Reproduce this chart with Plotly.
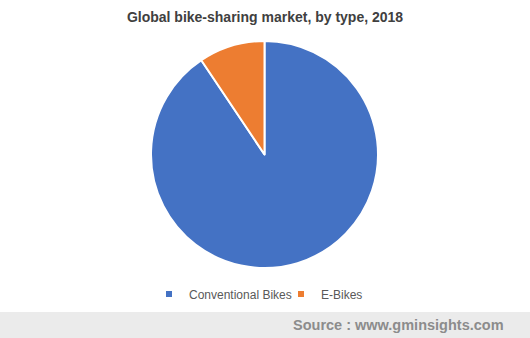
import plotly.graph_objects as go

labels = ["Conventional Bikes", "E-Bikes"]
values = [90.6, 9.4]
colors = ["#4472C4", "#ED7D31"]

W, H = 530, 338
fig = go.Figure()
fig.add_trace(go.Pie(
    labels=labels, values=values, sort=False, direction="clockwise", rotation=0,
    marker=dict(colors=colors, line=dict(color="white", width=2)),
    textinfo="none", hoverinfo="label+percent", showlegend=False,
    domain=dict(x=[151/W, 378/W], y=[70/H, 297/H]),
))
for lab, col in zip(labels, colors):
    fig.add_trace(go.Scatter(x=[None], y=[None], mode="markers", name=lab,
                             marker=dict(symbol="square", size=6, color=col)))

fig.update_layout(
    width=W, height=H, margin=dict(l=0, r=0, t=0, b=0),
    paper_bgcolor="white", plot_bgcolor="white",
    font=dict(family="Liberation Sans, Arial, sans-serif", color="#595959"),
    title=dict(text="<b>Global bike-sharing market, by type, 2018</b>",
               x=0.5, xanchor="center", y=1 - 17/H, yanchor="middle",
               font=dict(size=14, color="#404040")),
    xaxis=dict(visible=False), yaxis=dict(visible=False),
    legend=dict(orientation="h", x=0.5 + 16/W, xanchor="center", y=(H-294)/H, yanchor="middle",
                font=dict(size=12, color="#595959"), itemwidth=30,
                entrywidth=87, entrywidthmode="pixels",
                bgcolor="rgba(0,0,0,0)"),
    shapes=[dict(type="rect", xref="paper", yref="paper", x0=0, x1=1, y0=0, y1=26/H,
                 fillcolor="#EBEBEB", line=dict(width=0), layer="below")],
    annotations=[dict(text="<b>Source : www.gminsights.com</b>", xref="paper", yref="paper",
                      x=506/W, xanchor="right", y=13/H, yanchor="middle", showarrow=False,
                      font=dict(size=14.5, color="#8C8C8C"))],
)
fig.write_html("out.html")
